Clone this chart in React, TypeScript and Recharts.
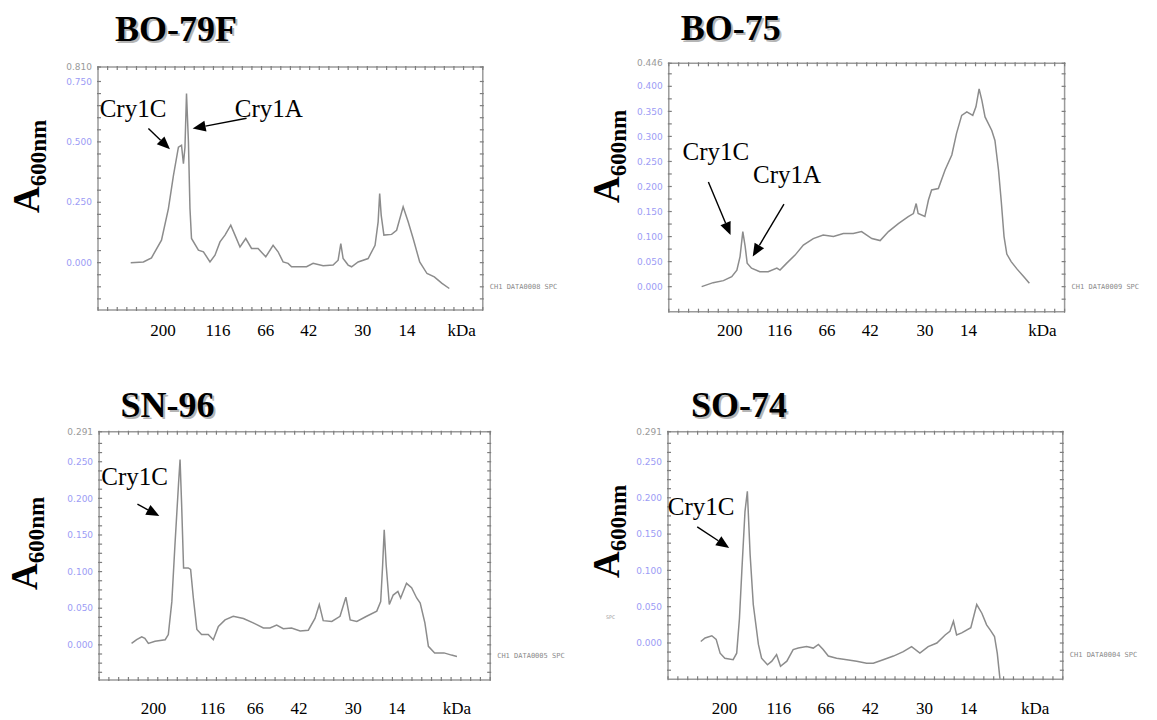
import { LineChart, Line, XAxis, YAxis, ReferenceLine, ReferenceDot } from "recharts";

const FRAME = "#9a9a9a";
const TICK = "#7d7d7d";
const TRACE = "#8c8c8c";
const SERIF = "'Liberation Serif', 'Times New Roman', serif";

// lane position: 0 = left edge of the scan frame, 100 = right edge
const kdaLabels = ["200", "116", "66", "42", "30", "14", "kDa"];

// BO-79F
const bo79fPos = [8.5, 11.8, 13.9, 16.5, 18.3, 19.6, 20.9, 21.7, 22.2, 22.6, 23.0, 23.5, 23.9, 24.3, 26.1, 27.4, 29.1, 30.4, 31.7, 33.0, 34.5, 35.6, 36.9, 38.4, 39.9, 41.6, 43.6, 45.5, 46.8, 48.1, 49.4, 50.3, 54.2, 55.9, 58.5, 61.1, 62.4, 63.1, 63.7, 65.0, 65.9, 67.6, 70.2, 72.0, 72.8, 73.2, 73.6, 74.3, 76.3, 77.6, 79.3, 80.6, 81.9, 83.6, 85.5, 87.4, 89.4, 91.3];
const bo79fAbs = [0.0, 0.003, 0.02, 0.093, 0.224, 0.36, 0.478, 0.486, 0.41, 0.478, 0.7, 0.5, 0.224, 0.1, 0.052, 0.045, 0.003, 0.031, 0.086, 0.114, 0.155, 0.114, 0.065, 0.1, 0.059, 0.059, 0.024, 0.072, 0.045, 0.003, -0.003, -0.017, -0.017, -0.003, -0.013, -0.01, 0.01, 0.079, 0.017, -0.01, -0.017, 0.003, 0.017, 0.072, 0.169, 0.286, 0.196, 0.114, 0.117, 0.134, 0.231, 0.169, 0.1, 0.003, -0.045, -0.059, -0.086, -0.107];
const bo79fKdaPos = [16.9, 31.2, 43.6, 54.8, 68.8, 80.3, 94.5];
const bo79fYTicks = [0, 0.25, 0.5, 0.75];
const bo79fYMax = 0.81;

// BO-75
const bo75Pos = [8.3, 11.2, 13.8, 15.9, 17.2, 18.0, 18.7, 19.3, 19.8, 20.9, 23.0, 25.1, 27.3, 28.1, 29.8, 31.9, 34.0, 36.5, 39.0, 41.6, 44.1, 46.6, 48.7, 51.3, 53.4, 55.5, 58.0, 60.5, 61.8, 62.5, 63.0, 64.7, 65.6, 66.4, 68.1, 69.8, 71.5, 72.7, 74.0, 75.3, 76.8, 77.6, 78.4, 79.1, 79.9, 81.6, 82.4, 83.3, 84.0, 84.7, 85.4, 86.5, 88.0, 89.7, 91.1];
const bo75Abs = [0.0, 0.008, 0.012, 0.02, 0.033, 0.06, 0.11, 0.08, 0.047, 0.037, 0.03, 0.03, 0.037, 0.033, 0.047, 0.063, 0.083, 0.096, 0.103, 0.1, 0.106, 0.106, 0.11, 0.096, 0.092, 0.11, 0.126, 0.14, 0.146, 0.166, 0.146, 0.14, 0.173, 0.193, 0.196, 0.233, 0.263, 0.306, 0.342, 0.349, 0.342, 0.359, 0.395, 0.372, 0.339, 0.312, 0.292, 0.233, 0.17, 0.1, 0.065, 0.05, 0.035, 0.02, 0.007];
const bo75KdaPos = [15.4, 28.0, 40.0, 50.9, 64.7, 75.7, 94.4];
const bo75YTicks = [0, 0.05, 0.1, 0.15, 0.2, 0.25, 0.3, 0.35, 0.4];
const bo75YMax = 0.446;

// SN-96
const sn96Pos = [8.3, 9.6, 10.9, 11.7, 12.6, 14.3, 16.9, 17.7, 18.6, 19.4, 20.3, 20.7, 21.1, 21.6, 22.8, 23.4, 24.1, 25.0, 26.2, 27.9, 29.2, 30.5, 32.2, 34.3, 36.9, 39.4, 42.0, 43.7, 45.4, 47.1, 49.2, 51.4, 53.5, 55.2, 56.3, 57.3, 59.5, 61.6, 63.1, 64.2, 65.9, 68.4, 71.0, 72.0, 72.5, 72.9, 73.4, 74.2, 75.2, 76.4, 77.1, 78.6, 79.9, 81.2, 82.1, 83.3, 84.2, 85.8, 88.2, 90.1, 91.5];
const sn96Abs = [0.002, 0.007, 0.011, 0.009, 0.002, 0.005, 0.007, 0.014, 0.059, 0.137, 0.219, 0.253, 0.192, 0.105, 0.105, 0.103, 0.064, 0.021, 0.014, 0.014, 0.007, 0.025, 0.034, 0.039, 0.036, 0.03, 0.023, 0.023, 0.027, 0.022, 0.023, 0.019, 0.02, 0.036, 0.055, 0.033, 0.032, 0.039, 0.065, 0.034, 0.032, 0.039, 0.046, 0.059, 0.109, 0.157, 0.109, 0.055, 0.068, 0.073, 0.064, 0.084, 0.078, 0.064, 0.057, 0.03, -0.002, -0.011, -0.011, -0.014, -0.016];
const sn96KdaPos = [13.9, 29.0, 39.9, 51.1, 65.0, 76.1, 91.5];
const sn96YTicks = [0, 0.05, 0.1, 0.15, 0.2, 0.25];
const sn96YMax = 0.291;

// SO-74
const so74Pos = [8.3, 9.4, 11.1, 12.2, 13.2, 14.4, 16.5, 17.4, 18.1, 18.7, 19.5, 20.1, 20.8, 21.6, 22.9, 23.7, 25.2, 26.3, 27.5, 28.5, 30.1, 31.7, 33.0, 35.1, 36.8, 38.1, 39.3, 40.6, 42.7, 45.3, 47.8, 50.3, 52.0, 54.5, 57.1, 59.6, 61.7, 63.8, 65.9, 68.1, 70.2, 71.4, 72.3, 73.1, 74.4, 76.7, 78.2, 79.5, 80.7, 81.6, 82.7, 83.4, 84.1];
const so74Abs = [0.002, 0.007, 0.01, 0.005, -0.014, -0.021, -0.023, -0.014, 0.034, 0.099, 0.181, 0.209, 0.122, 0.053, -0.002, -0.021, -0.03, -0.025, -0.016, -0.032, -0.025, -0.009, -0.007, -0.005, -0.007, -0.002, -0.009, -0.018, -0.021, -0.023, -0.025, -0.028, -0.028, -0.023, -0.018, -0.012, -0.005, -0.014, -0.005, 0.0, 0.011, 0.016, 0.03, 0.011, 0.014, 0.021, 0.053, 0.041, 0.025, 0.018, 0.009, -0.014, -0.05];
const so74KdaPos = [14.3, 28.1, 40.0, 51.3, 65.0, 76.1, 93.0];
const so74YTicks = [0, 0.05, 0.1, 0.15, 0.2, 0.25];
const so74YMax = 0.291;

type Note = { text: string; at: [number, number]; from: [number, number]; to: [number, number] };

const bo79fNotes: Note[] = [
  { text: "Cry1C", at: [9.1, 0.638], from: [13.1, 0.555], to: [18.7, 0.469] },
  { text: "Cry1A", at: [44.4, 0.638], from: [38.6, 0.598], to: [24.6, 0.555] },
];
const bo75Notes: Note[] = [
  { text: "Cry1C", at: [11.9, 0.27], from: [10.0, 0.209], to: [15.6, 0.103] },
  { text: "Cry1A", at: [29.9, 0.225], from: [29.1, 0.165], to: [21.2, 0.06] },
];
const sn96Notes: Note[] = [{ text: "Cry1C", at: [9.1, 0.23], from: [9.8, 0.192], to: [15.4, 0.176] }];
const so74Notes: Note[] = [{ text: "Cry1C", at: [8.4, 0.188], from: [7.4, 0.16], to: [15.5, 0.131] }];

const steps = (a: number, b: number, s: number) => {
  const out: number[] = [];
  for (let v = a; v <= b + 1e-9; v += s) out.push(+v.toFixed(4));
  return out;
};
const near = (list: number[], v: number) => list.findIndex((m) => Math.abs(m - v) < 1e-6);

const xMinor = steps(0, 100, 2.5);

const panels = [
  {
    title: "BO-79F", titleX: 176, titleY: 41, axisTitle: [39, 213],
    pos: bo79fPos, abs: bo79fAbs, kdaPos: bo79fKdaPos, kdaOff: 13.5,
    yDomain: [-0.196, bo79fYMax], yTicks: bo79fYTicks, yMax: bo79fYMax, yMinor: steps(-0.15, 0.75, 0.05),
    channel: "CH1 DATA0008 SPC", channelLevel: -0.097, notes: bo79fNotes,
    box: { left: 0, top: 0, width: 578, height: 360 }, leftW: 98,
    margin: { top: 66, right: 94.2, bottom: 19, left: 0 },
  },
  {
    title: "BO-75", titleX: 730.8, titleY: 40, axisTitle: [619, 203],
    pos: bo75Pos, abs: bo75Abs, kdaPos: bo75KdaPos, kdaOff: 11.8,
    yDomain: [-0.05, bo75YMax], yTicks: bo75YTicks, yMax: bo75YMax, yMinor: steps(-0.025, 0.425, 0.025),
    channel: "CH1 DATA0009 SPC", channelLevel: 0.001, notes: bo75Notes,
    box: { left: 580, top: 0, width: 577, height: 360 }, leftW: 88.8,
    margin: { top: 62.3, right: 91.4, bottom: 17.3, left: 0 },
  },
  {
    title: "SN-96", titleX: 167.4, titleY: 417, axisTitle: [37, 590],
    pos: sn96Pos, abs: sn96Abs, kdaPos: sn96KdaPos, kdaOff: 21.5,
    yDomain: [-0.048, sn96YMax], yTicks: sn96YTicks, yMax: sn96YMax, yMinor: steps(-0.0375, 0.275, 0.0125),
    channel: "CH1 DATA0005 SPC", channelLevel: -0.014, notes: sn96Notes,
    box: { left: 0, top: 360, width: 578, height: 360 }, leftW: 99.1,
    margin: { top: 70.7, right: 86.8, bottom: 9, left: 0 },
  },
  {
    title: "SO-74", titleX: 739.1, titleY: 417, axisTitle: [619, 578],
    pos: so74Pos, abs: so74Abs, kdaPos: so74KdaPos, kdaOff: 22.2,
    yDomain: [-0.05, so74YMax], yTicks: so74YTicks, yMax: so74YMax, yMinor: steps(-0.0375, 0.275, 0.0125),
    channel: "CH1 DATA0004 SPC", channelLevel: -0.016, notes: so74Notes,
    box: { left: 580, top: 360, width: 577, height: 360 }, leftW: 88,
    margin: { top: 70.7, right: 93.2, bottom: 9.7, left: 0 },
  },
];

const arrowShape = (props: any) => {
  const { x1, y1, x2, y2 } = props;
  const dx = x2 - x1;
  const dy = y2 - y1;
  const len = Math.hypot(dx, dy) || 1;
  const ux = dx / len;
  const uy = dy / len;
  const hl = 13;
  const hw = 5.5;
  const bx = x2 - ux * hl;
  const by = y2 - uy * hl;
  return (
    <g>
      <line x1={x1} y1={y1} x2={bx} y2={by} stroke="#000" strokeWidth={1.4} />
      <polygon
        points={`${x2},${y2} ${bx - uy * hw},${by + ux * hw} ${bx + uy * hw},${by - ux * hw}`}
        fill="#000"
      />
    </g>
  );
};

function Panel({ p }: { p: (typeof panels)[number] }) {
  const data = p.pos.map((x, i) => ({ x, a: p.abs[i] }));
  const bottomTicks = Array.from(new Set([...xMinor, ...p.kdaPos])).sort((a, b) => a - b);
  const yTickList = [...p.yMinor, p.yMax];

  const topTick = (t: any) => <line x1={t.x} x2={t.x} y1={t.y - 1} y2={t.y + 3} stroke={TICK} strokeWidth={1.2} />;
  const rightTick = (t: any) => <line x1={t.x - 3} x2={t.x + 1} y1={t.y} y2={t.y} stroke={TICK} strokeWidth={1.2} />;
  const bottomTick = (t: any) => {
    const v = t.payload.value;
    const k = near(p.kdaPos, v);
    return (
      <g>
        {near(xMinor, v) >= 0 && <line x1={t.x} x2={t.x} y1={t.y - 3} y2={t.y + 1} stroke={TICK} strokeWidth={1.2} />}
        {k >= 0 && (
          <text x={t.x} y={t.y + p.kdaOff} dy="0.71em" textAnchor="middle" fontSize={17} fontFamily={SERIF} fill="#000">
            {kdaLabels[k]}
          </text>
        )}
      </g>
    );
  };
  const leftTick = (t: any) => {
    const v = t.payload.value;
    const isTop = Math.abs(v - p.yMax) < 1e-6;
    const isMajor = near(p.yTicks, v) >= 0;
    return (
      <g>
        <line x1={t.x + 5} x2={t.x + 9} y1={t.y} y2={t.y} stroke={TICK} strokeWidth={1.2} />
        {(isMajor || isTop) && (
          <text x={t.x} y={t.y} dy="0.35em" textAnchor="end" fontSize={9} fontFamily="'DejaVu Sans'" fill={isTop ? "#9a9a9a" : "#9c9cf5"}>
            {v.toFixed(3)}
          </text>
        )}
      </g>
    );
  };
  const frameLine = { stroke: FRAME, strokeWidth: 1.5 };

  return (
    <div style={{ position: "absolute", left: p.box.left, top: p.box.top }}>
      <LineChart width={p.box.width} height={p.box.height} data={data} margin={p.margin}>
        <XAxis xAxisId="t" orientation="top" type="number" dataKey="x" domain={[0, 100]} allowDataOverflow height={1}
          ticks={xMinor} interval={0} tickSize={0} tickMargin={0} tickLine={false} axisLine={frameLine} tick={topTick} />
        <XAxis xAxisId="b" orientation="bottom" type="number" dataKey="x" domain={[0, 100]} allowDataOverflow height={31}
          ticks={bottomTicks} interval={0} tickSize={0} tickMargin={0} tickLine={false} axisLine={frameLine} tick={bottomTick} />
        <YAxis yAxisId="v" orientation="left" type="number" domain={p.yDomain} allowDataOverflow width={p.leftW}
          ticks={yTickList} interval={0} tickSize={0} tickMargin={6} tickLine={false} axisLine={frameLine} tick={leftTick} />
        <YAxis yAxisId="r" orientation="right" type="number" domain={p.yDomain} allowDataOverflow width={1}
          ticks={yTickList} interval={0} tickSize={0} tickMargin={0} tickLine={false} axisLine={frameLine} tick={rightTick} />
        <Line xAxisId="b" yAxisId="v" type="linear" dataKey="a" stroke={TRACE} strokeWidth={1.5} dot={false} isAnimationActive={false} />
        <ReferenceLine xAxisId="b" yAxisId="v" y={p.channelLevel} stroke="none"
          label={{ value: p.channel, position: "right", offset: 7, fontSize: 7, fill: "#8a8a8a", fontFamily: "'DejaVu Sans Mono'" }} />
        {p.notes.map((n) => (
          <ReferenceLine key={n.text + "a"} xAxisId="b" yAxisId="v" ifOverflow="visible"
            segment={[{ x: n.from[0], y: n.from[1] }, { x: n.to[0], y: n.to[1] }]} shape={arrowShape} />
        ))}
        {p.notes.map((n) => (
          <ReferenceDot key={n.text + "t"} xAxisId="b" yAxisId="v" x={n.at[0]} y={n.at[1]} r={0} fill="none" stroke="none"
            label={{ value: n.text, position: "center", fontSize: 25, fontFamily: SERIF, fill: "#000" }} />
        ))}
      </LineChart>
    </div>
  );
}

export default function App() {
  return (
    <div style={{ position: "absolute", left: 0, top: 0, width: 1157, height: 720, background: "#fff", overflow: "hidden" }}>
      {panels.map((p) => (
        <Panel key={p.title} p={p} />
      ))}
      <svg width={1157} height={720} style={{ position: "absolute", left: 0, top: 0, pointerEvents: "none" }}>
        {panels.map((p) => (
          <g key={p.title}>
            <text x={p.titleX + 2} y={p.titleY + 2} textAnchor="middle" fontSize={36} fontWeight="bold" fontFamily={SERIF} fill="#b5b5b5">
              {p.title}
            </text>
            <text x={p.titleX} y={p.titleY} textAnchor="middle" fontSize={36} fontWeight="bold" fontFamily={SERIF} fill="#000">
              {p.title}
            </text>
            <text transform={`translate(${p.axisTitle[0]},${p.axisTitle[1]}) rotate(-90)`} fontFamily={SERIF} fontWeight="bold" fill="#000">
              <tspan fontSize={37}>A</tspan>
              <tspan fontSize={23} dy={7}>600nm</tspan>
            </text>
          </g>
        ))}
        <text x={606} y={619} fontSize={5} fill="#9a9a9a" fontFamily="'DejaVu Sans Mono'">SPC</text>
      </svg>
    </div>
  );
}
